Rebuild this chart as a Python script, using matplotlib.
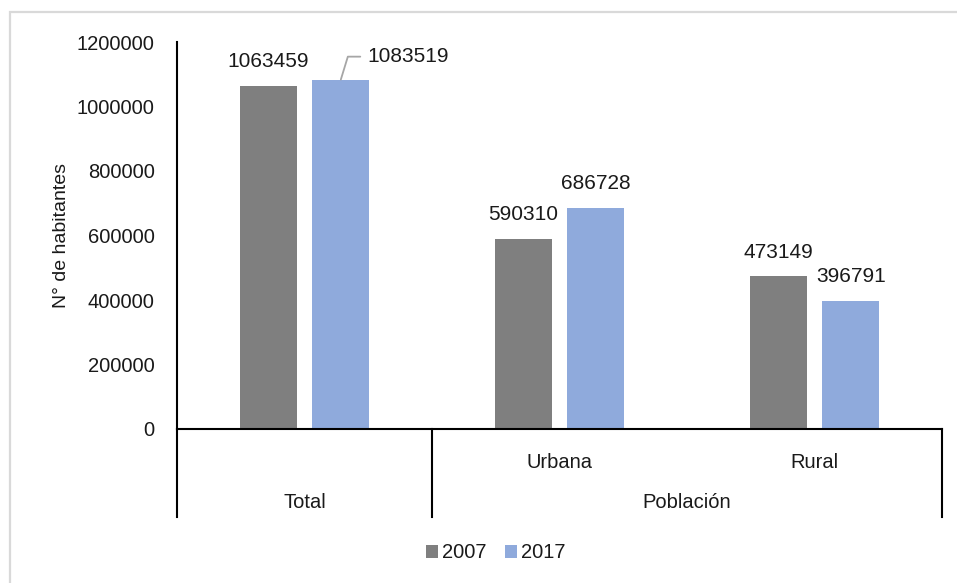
import matplotlib
matplotlib.use("Agg")
import matplotlib.pyplot as plt
from matplotlib import font_manager
from matplotlib.patches import Rectangle, Patch
from matplotlib.transforms import blended_transform_factory

# --- data -------------------------------------------------------------
categories = ["Total", "Urbana", "Rural"]
groups = [("", 0, 0), ("Población", 1, 2)]  # (outer label, first idx, last idx)
series_names = ["2007", "2017"]
values_2007 = [1063459, 590310, 473149]
values_2017 = [1083519, 686728, 396791]
y_ticks = [0, 200000, 400000, 600000, 800000, 1000000, 1200000]
y_label = "N° de habitantes"

# --- style ------------------------------------------------------------
names = {f.name for f in font_manager.fontManager.ttflist}
narrow = "Liberation Sans Narrow" if "Liberation Sans Narrow" in names else "Liberation Sans"
plt.rcParams["font.family"] = [narrow, "DejaVu Sans"]
colors = ["#7f7f7f", "#8faadc"]
fs = 17 if narrow.endswith("Narrow") else 14.5
txt_color = "#1a1a1a"

fig = plt.figure(figsize=(9.57, 5.83), dpi=100)
ax = fig.add_axes([177 / 957, 1 - 429 / 583, 765 / 957, 387 / 583])

# outer light frame
fig.patches.append(Rectangle((10 / 957, -0.2), 1.2, 1 - 12 / 583 + 0.2,
                             transform=fig.transFigure, fill=False,
                             edgecolor="#d9d9d9", linewidth=1.6, zorder=0))

x = list(range(len(categories)))
width = 0.2235
offset = 0.1425
bars_a = ax.bar([i - offset for i in x], values_2007, width, color=colors[0], zorder=2)
bars_b = ax.bar([i + offset for i in x], values_2017, width, color=colors[1], zorder=2)

ax.set_xlim(-0.5, len(categories) - 0.5)
ax.set_ylim(0, 1200000)
ax.set_yticks(y_ticks)
ax.set_yticklabels([str(t) for t in y_ticks], fontsize=fs, color=txt_color)
ax.tick_params(axis="y", length=0, pad=16)
ax.set_xticks([])
for s in ["top", "right"]:
    ax.spines[s].set_visible(False)
ax.spines["left"].set_linewidth(1.5)
ax.spines["bottom"].set_linewidth(1.5)

ax.set_ylabel(y_label, fontsize=14, family="Liberation Sans", labelpad=5, color=txt_color)

# value labels
for bars, vals in [(bars_a, values_2007), (bars_b, values_2017)]:
    for b, v in zip(bars, vals):
        cx = b.get_x() + b.get_width() / 2
        if v == max(values_2017):
            ax.annotate(str(v), xy=(cx, v), xytext=(19, 16.5), textcoords="offset points",
                        ha="left", va="center", fontsize=fs + 0.5, color=txt_color,
                        arrowprops=dict(arrowstyle="-", color="#a6a6a6", lw=1.3,
                                        connectionstyle="angle,angleA=0,angleB=73,rad=0",
                                        relpos=(0, 0.5), shrinkA=5, shrinkB=0,
                                        patchA=None))
        else:
            ax.annotate(str(v), xy=(cx, v), xytext=(0, 17.5), textcoords="offset points",
                        ha="center", va="center", fontsize=fs + 0.5, color=txt_color)

# multi-level category axis
tr = blended_transform_factory(ax.transData, ax.transAxes)
depth = -88 / 387
bounds = [-0.5]
for name, i0, i1 in groups:
    bounds.append(i1 + 0.5)
for bx in bounds:
    ax.plot([bx, bx], [0, depth], transform=tr, color="black", lw=1.5, clip_on=False)

inner_y = -33 / 387
outer_y = -73 / 387
for name, i0, i1 in groups:
    if name:
        for i in range(i0, i1 + 1):
            ax.text(i, inner_y, categories[i], transform=tr, ha="center", va="center",
                    fontsize=fs, color=txt_color)
        ax.text((i0 + i1) / 2, outer_y, name, transform=tr, ha="center", va="center",
                fontsize=fs, color=txt_color)
    else:
        for i in range(i0, i1 + 1):
            ax.text(i, outer_y, categories[i], transform=tr, ha="center", va="center",
                    fontsize=fs, color=txt_color)

handles = [Patch(facecolor=c, edgecolor="none") for c in colors]
fig.legend(handles, series_names, loc="center", bbox_to_anchor=(496 / 957, 1 - 553 / 583),
           ncol=2, frameon=False, fontsize=fs, handlelength=0.6, handleheight=0.6,
           handletextpad=0.2, columnspacing=0.9, labelcolor=txt_color)

fig.savefig("out.png", dpi=100)
